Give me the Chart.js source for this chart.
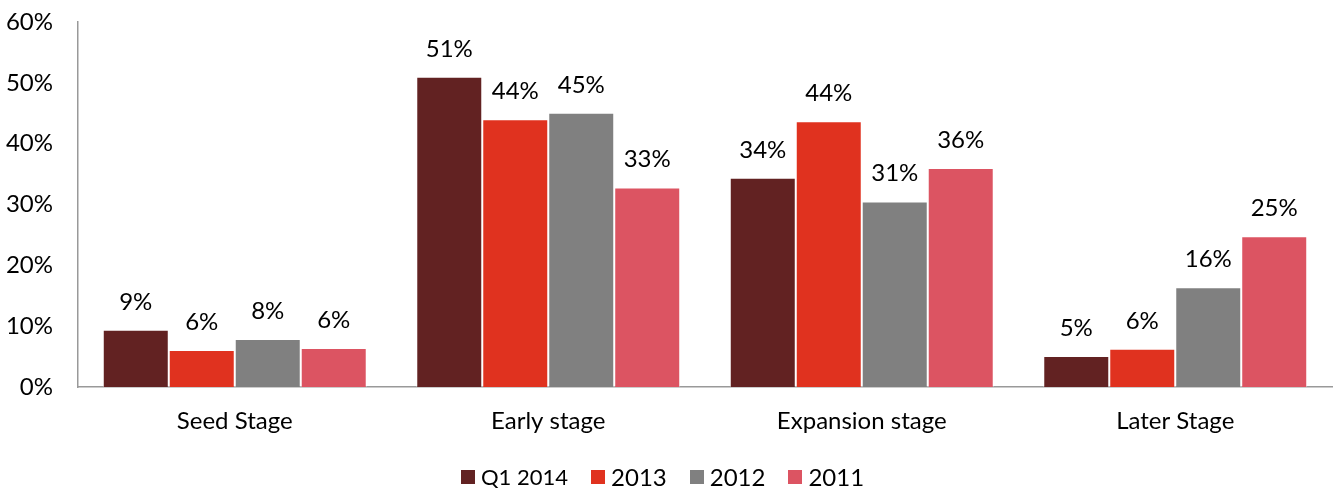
<!DOCTYPE html>
<html>
<head>
  <title>Investment by stage</title>
  <script src="https://cdn.jsdelivr.net/npm/chart.js"></script>
  <style>
    html, body { margin: 0; padding: 0; background: #fff; }
    .wrap { position: relative; width: 1338px; height: 491px; }
    #legend {
      position: absolute; left: 461px; top: 462px;
      display: flex; align-items: center; font-family: Lato, sans-serif; color: #000;
    }
    #legend .item { display: flex; align-items: center; margin-right: 23px; }
    #legend .box { width: 14px; height: 14px; margin-right: 6px; }
  </style>
</head>
<body>
  <div class="wrap">
    <canvas id="barChart" width="1338" height="491"></canvas>
    <div id="legend"></div>
  </div>

<script>
  // categories and series (percent)
  const stages = ['Seed Stage', 'Early stage', 'Expansion stage', 'Later Stage'];
  const seriesNames = ['Q1 2014', '2013', '2012', '2011'];
  const q1_2014 = [9.4, 51.0, 34.4, 5.1];
  const y2013 = [6.1, 44.0, 43.7, 6.3];
  const y2012 = [7.9, 45.1, 30.5, 16.4];
  const y2011 = [6.4, 32.8, 36.0, 24.8];
  const yTicks = [0, 10, 20, 30, 40, 50, 60];

  const colors = ['#622222', '#E0321F', '#808080', '#DC5462'];
  const legendSizes = [22, 24, 24, 24];
  const FONT = 'Lato, sans-serif';

  const datasets = [q1_2014, y2013, y2012, y2011].map((vals, i) => ({
    label: seriesNames[i],
    data: vals,
    backgroundColor: colors[i],
    borderColor: 'rgba(255,255,255,0.5)',
    borderWidth: 1,
    categoryPercentage: 0.842,
    barPercentage: 1.0
  }));

  // draw the value above every bar
  const valueLabels = {
    id: 'valueLabels',
    afterDatasetsDraw(chart) {
      const ctx = chart.ctx;
      ctx.save();
      ctx.font = '24px ' + FONT;
      ctx.fillStyle = '#000';
      ctx.textAlign = 'center';
      ctx.textBaseline = 'alphabetic';
      chart.data.datasets.forEach((ds, i) => {
        chart.getDatasetMeta(i).data.forEach((bar, j) => {
          ctx.fillText(Math.round(ds.data[j]) + '%', bar.x, bar.y - 20);
        });
      });
      ctx.restore();
    }
  };

  const ctx = document.getElementById('barChart').getContext('2d');
  const barChart = new Chart(ctx, {
    type: 'bar',
    data: { labels: stages, datasets: datasets },
    plugins: [valueLabels],
    options: {
      responsive: false,
      animation: false,
      layout: { padding: { top: 0, right: 6, left: 0, bottom: 0 } },
      plugins: {
        legend: { display: false },
        tooltip: { enabled: false }
      },
      scales: {
        x: {
          grid: { display: false, drawTicks: false },
          border: { display: true, color: '#999', width: 1.5 },
          ticks: { color: '#000', font: { family: FONT, size: 24 }, padding: 20 },
          afterFit: s => { s.height = 104; }
        },
        y: {
          min: 0,
          max: 60,
          afterBuildTicks: s => { s.ticks = yTicks.map(v => ({ value: v })); },
          grid: { display: false, drawTicks: false },
          border: { display: true, color: '#999', width: 1.5 },
          ticks: {
            color: '#000',
            font: { family: FONT, size: 24 },
            padding: 25,
            callback: v => v + '%'
          },
          afterFit: s => { s.width = 78; s.paddingTop = 22; s.paddingBottom = 14; }
        }
      }
    }
  });

  // legend with per-item text sizes
  const legend = document.getElementById('legend');
  seriesNames.forEach((name, i) => {
    const item = document.createElement('div');
    item.className = 'item';
    item.innerHTML = '<span class="box" style="background:' + colors[i] + '"></span>' +
      '<span style="font-size:' + legendSizes[i] + 'px">' + name + '</span>';
    legend.appendChild(item);
  });
</script>
</body>
</html>
